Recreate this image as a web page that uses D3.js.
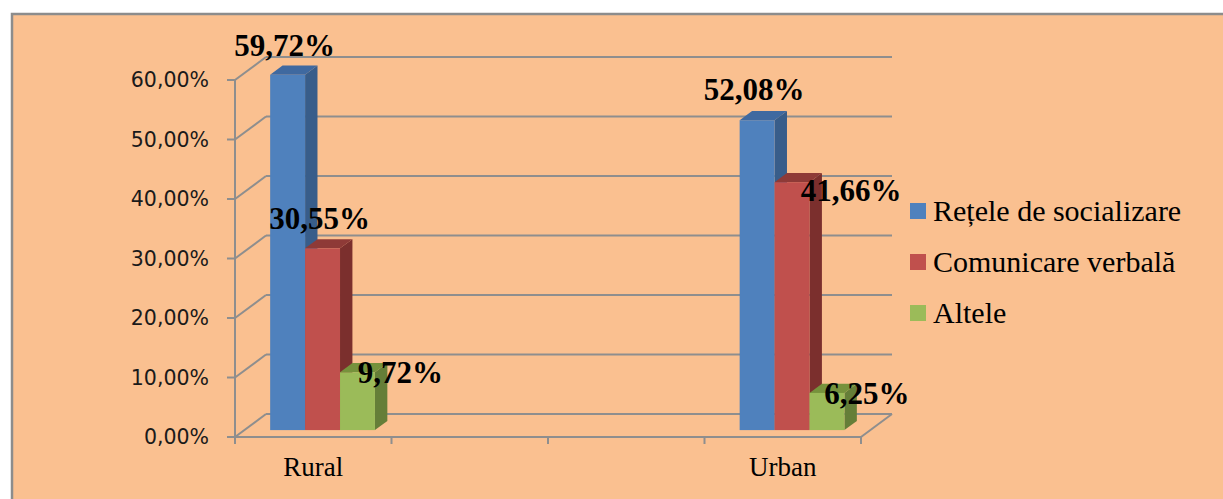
<!DOCTYPE html>
<html lang="ro">

<head>
    <meta charset="UTF-8">
    <title>Rural / Urban</title>
    <script src="https://d3js.org/d3.v7.min.js"></script>
    <style>
        body,
        html {
            margin: 0;
            padding: 0;
            width: 100%;
            height: 100%;
            overflow: hidden;
            background: #ffffff;
        }
    </style>
</head>

<body>
    <svg id="chart" width="1223" height="499"></svg>

    <script>
        // categories (the two in the middle are empty in the original sheet)
        const categories = ["Rural", "gol1", "gol2", "Urban"];
        const categoryLabels = ["Rural", "", "", "Urban"];

        const seriesNames = ["Rețele de socializare", "Comunicare verbală", "Altele"];
        const retele = [0.5972, null, null, 0.5208];
        const comunicare = [0.3055, null, null, 0.4166];
        const altele = [0.0972, null, null, 0.0625];

        const yTicks = [0, 0.1, 0.2, 0.3, 0.4, 0.5, 0.6];

        // label nudges (moved by hand in the original)
        const labelNudge = [
            [[-3, -19], null, null, [-3, -20]],
            [[-3, -19], null, null, [59, 19]],
            [[43, 11], null, null, [40, 11]]
        ];

        const colors = [
            { front: "#4f81bd", side: "#385d8a", top: "#3f69a0" },
            { front: "#c0504d", side: "#7b2f2d", top: "#8e3a37" },
            { front: "#9bbb59", side: "#657e38", top: "#76923c" }
        ];

        const svg = d3.select("#chart");
        const ro = d3.formatLocale({ decimal: ",", thousands: ".", grouping: [3], currency: ["", " lei"] });
        const pct = ro.format(".2%");

        // 3d depth of the plot (front -> back)
        const DX = 31, DY = -23;
        const barD0 = 0.3, barD1 = 0.7;

        const x = d3.scaleBand().domain(categories).range([235, 861]).paddingInner(0).paddingOuter(0);
        const y = d3.scaleLinear().domain([0, 0.6]).range([437, 80]);

        // background + border
        svg.append("rect")
            .attr("x", 12).attr("y", 14)
            .attr("width", 1240).attr("height", 520)
            .attr("fill", "#fac090")
            .attr("stroke", "#8c8c8c")
            .attr("stroke-width", 2.5);

        const grid = svg.append("g")
            .attr("fill", "none")
            .attr("stroke", "#8e8e8e")
            .attr("stroke-width", 2);

        // back wall gridlines + left wall diagonals
        yTicks.forEach(t => {
            grid.append("line")
                .attr("x1", x.range()[0] + DX).attr("x2", x.range()[1] + DX)
                .attr("y1", y(t) + DY).attr("y2", y(t) + DY);
            grid.append("line")
                .attr("x1", x.range()[0]).attr("x2", x.range()[0] + DX)
                .attr("y1", y(t)).attr("y2", y(t) + DY);
            grid.append("line")
                .attr("x1", x.range()[0] - 8).attr("x2", x.range()[0])
                .attr("y1", y(t)).attr("y2", y(t));
        });

        // front value axis and floor
        grid.append("line")
            .attr("x1", x.range()[0]).attr("x2", x.range()[0])
            .attr("y1", y(0.6)).attr("y2", y(0));
        grid.append("line")
            .attr("x1", x.range()[0]).attr("x2", x.range()[1])
            .attr("y1", y(0)).attr("y2", y(0));
        grid.append("line")
            .attr("x1", x.range()[1]).attr("x2", x.range()[1] + DX)
            .attr("y1", y(0)).attr("y2", y(0) + DY);

        // category ticks
        categories.concat(["end"]).forEach((c, i) => {
            const px = i < categories.length ? x(c) : x.range()[1];
            grid.append("line")
                .attr("x1", px).attr("x2", px)
                .attr("y1", y(0)).attr("y2", y(0) + 7);
        });

        // y tick labels
        svg.append("g")
            .selectAll("text")
            .data(yTicks)
            .enter().append("text")
            .attr("x", 209)
            .attr("y", d => y(d) + 7)
            .attr("text-anchor", "end")
            .style("font-family", "'DejaVu Sans', sans-serif")
            .style("font-size", "20.5px")
            .style("fill", "#1a1a1a")
            .text(d => pct(d));

        // category labels
        svg.append("g")
            .selectAll("text")
            .data(categories)
            .enter().append("text")
            .attr("x", d => x(d) + x.bandwidth() / 2)
            .attr("y", 476)
            .attr("text-anchor", "middle")
            .style("font-family", "'Liberation Serif', 'Times New Roman', serif")
            .style("font-size", "27px")
            .style("fill", "#000")
            .text((d, i) => categoryLabels[i]);

        // bars
        const allSeries = [retele, comunicare, altele];
        const inner = d3.scaleBand().domain(d3.range(allSeries.length)).range([0, x.bandwidth()]).paddingOuter(0.74).paddingInner(0);

        const bars = svg.append("g");
        const labels = svg.append("g");

        categories.forEach((c, ci) => {
            allSeries.forEach((vals, si) => {
                const v = vals[ci];
                if (v == null) return;
                const x0 = x(c) + inner(si) + barD0 * DX;
                const x1 = x0 + inner.bandwidth();
                const yb = y(0) + barD0 * DY;
                const yt = y(v) + barD0 * DY;
                const ddx = (barD1 - barD0) * DX, ddy = (barD1 - barD0) * DY;
                const col = colors[si];

                bars.append("polygon")
                    .attr("points", [[x1, yt], [x1 + ddx, yt + ddy], [x1 + ddx, yb + ddy], [x1, yb]].join(" "))
                    .attr("fill", col.side);
                bars.append("polygon")
                    .attr("points", [[x0, yt], [x0 + ddx, yt + ddy], [x1 + ddx, yt + ddy], [x1, yt]].join(" "))
                    .attr("fill", col.top);
                bars.append("rect")
                    .attr("x", x0).attr("y", yt)
                    .attr("width", x1 - x0).attr("height", yb - yt)
                    .attr("fill", col.front);

                const n = labelNudge[si][ci] || [0, -19];
                labels.append("text")
                    .attr("x", (x0 + x1) / 2 + n[0])
                    .attr("y", yt + n[1])
                    .attr("text-anchor", "middle")
                    .style("font-family", "'Liberation Serif', 'Times New Roman', serif")
                    .style("font-weight", "bold")
                    .style("font-size", "31px")
                    .style("fill", "#000")
                    .text(pct(v));
            });
        });

        // legend
        const legend = svg.append("g")
            .selectAll("g")
            .data(seriesNames)
            .enter().append("g")
            .attr("transform", (d, i) => `translate(910, ${211 + i * 51})`);

        legend.append("rect")
            .attr("x", 0).attr("y", -8)
            .attr("width", 16).attr("height", 16)
            .attr("fill", (d, i) => colors[i].front);

        legend.append("text")
            .attr("x", 23)
            .attr("y", 10)
            .style("font-family", "'Liberation Serif', 'Times New Roman', serif")
            .style("font-size", "30px")
            .style("fill", "#000")
            .text(d => d);
    </script>
</body>

</html>
